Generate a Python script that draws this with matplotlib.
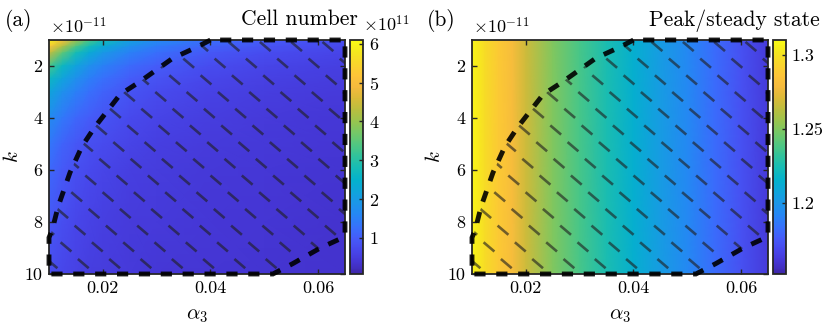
import numpy as np
import matplotlib
matplotlib.use("Agg")
import matplotlib.pyplot as plt
from matplotlib.colors import LinearSegmentedColormap
from matplotlib.collections import LineCollection
from matplotlib.patches import Polygon

plt.rcParams['font.family'] = 'serif'
plt.rcParams['font.serif'] = ['cmr10']
plt.rcParams['mathtext.fontset'] = 'cm'
plt.rcParams['axes.unicode_minus'] = False
plt.rcParams['axes.formatter.use_mathtext'] = True

# ---------------- data ----------------
alpha_grid = [0.010, 0.0125, 0.015, 0.0175, 0.020, 0.025, 0.030, 0.040, 0.050, 0.065]
k_grid = [1, 1.25, 1.5, 2, 2.5, 3, 4, 5, 6, 8, 10]          # x 1e-11
# cell number (x 1e11), rows follow k_grid, columns follow alpha_grid
cell_number = [
    [6.00, 5.10, 4.10, 3.35, 2.80, 2.10, 1.70, 1.25, 1.00, 0.80],
    [5.20, 4.20, 3.35, 2.75, 2.30, 1.75, 1.42, 1.06, 0.87, 0.70],
    [4.40, 3.50, 2.80, 2.30, 1.95, 1.50, 1.23, 0.93, 0.77, 0.63],
    [3.30, 2.65, 2.15, 1.78, 1.52, 1.18, 0.99, 0.77, 0.65, 0.55],
    [2.65, 2.15, 1.77, 1.48, 1.27, 1.00, 0.85, 0.67, 0.58, 0.50],
    [2.20, 1.80, 1.50, 1.27, 1.10, 0.88, 0.75, 0.61, 0.53, 0.46],
    [1.70, 1.38, 1.15, 0.99, 0.88, 0.72, 0.63, 0.52, 0.47, 0.42],
    [1.38, 1.10, 0.94, 0.82, 0.74, 0.62, 0.56, 0.48, 0.44, 0.39],
    [1.17, 0.95, 0.81, 0.72, 0.65, 0.56, 0.50, 0.44, 0.40, 0.37],
    [0.94, 0.78, 0.68, 0.61, 0.56, 0.49, 0.45, 0.40, 0.38, 0.35],
    [0.80, 0.67, 0.59, 0.54, 0.50, 0.45, 0.42, 0.38, 0.36, 0.33],
]
cell_clim = [0.07, 6.1]
cell_cticks = [1, 2, 3, 4, 5, 6]

alpha_peak = [0.010, 0.0125, 0.015, 0.0175, 0.020, 0.025, 0.030, 0.035,
              0.040, 0.045, 0.050, 0.055, 0.060, 0.065]
k_peak = [1, 10]
peak_ratio = [1.308, 1.297, 1.288, 1.280, 1.268, 1.250, 1.237, 1.225,
              1.214, 1.203, 1.193, 1.182, 1.172, 1.162]
peak_clim = [1.152, 1.31]
peak_cticks = [1.2, 1.25, 1.3]
peak_cticklabels = ['1.2', '1.25', '1.3']

# boundary of the hatched region (alpha_3, k x 1e-11)
region_alpha = [0.0400, 0.0375, 0.0330, 0.0269, 0.0232, 0.0185, 0.0161, 0.0139,
                0.0117, 0.0106, 0.0100, 0.0100, 0.0516, 0.0553, 0.0604, 0.0646,
                0.0650, 0.0650, 0.0400]
region_k = [1.0, 1.27, 1.7, 2.6, 3.1, 4.35, 5.1, 6.1, 7.4, 8.3, 8.6, 10.0,
            10.0, 9.6, 9.0, 8.6, 8.5, 1.0, 1.0]

x_ticks = [0.02, 0.04, 0.06]
x_ticklabels = ['0.02', '0.04', '0.06']
y_ticks = [2, 4, 6, 8, 10]
y_ticklabels = ['2', '4', '6', '8', '10']
x_lim = [0.01, 0.065]
y_lim = [10, 1]

# ---------------- parula colormap ----------------
parula_anchors = [
    (0.00, (0.2422, 0.1504, 0.6603)),
    (0.05, (0.2700, 0.2100, 0.8300)),
    (0.10, (0.2803, 0.2782, 0.9221)),
    (0.15, (0.2740, 0.3560, 0.9750)),
    (0.20, (0.2150, 0.4450, 0.9900)),
    (0.25, (0.1500, 0.5250, 0.9600)),
    (0.30, (0.1100, 0.5850, 0.9100)),
    (0.35, (0.0600, 0.6450, 0.8600)),
    (0.40, (0.0150, 0.6950, 0.8050)),
    (0.45, (0.0800, 0.7350, 0.7200)),
    (0.50, (0.1800, 0.7600, 0.6200)),
    (0.55, (0.3100, 0.7800, 0.5100)),
    (0.60, (0.4500, 0.7850, 0.4100)),
    (0.65, (0.5900, 0.7700, 0.3100)),
    (0.70, (0.7200, 0.7450, 0.2500)),
    (0.75, (0.8500, 0.7300, 0.2200)),
    (0.80, (0.9600, 0.7300, 0.2400)),
    (0.85, (0.9950, 0.7700, 0.2200)),
    (0.90, (0.9750, 0.8350, 0.1700)),
    (0.95, (0.9600, 0.9050, 0.1200)),
    (1.00, (0.9769, 0.9839, 0.0805)),
]
parula = LinearSegmentedColormap.from_list('parula', parula_anchors, N=256)

W, H = 831, 329
fig = plt.figure(figsize=(W / 100, H / 100), dpi=100)

FRAME = '#262626'
TICK_FS = 13
TITLE_FS = 15.5


def px_rect(x0, y0, x1, y1):
    return [x0 / W, 1 - y1 / H, (x1 - x0) / W, (y1 - y0) / H]


def add_hatch(ax):
    pos = ax.get_position()
    w = pos.width * W
    h = pos.height * H
    ox, oy = 129.0, 73.3
    ax_s, bx, by = 31.3, 17.3, 16.7
    segs = []
    j0 = int(np.floor((-20 - oy) / by))
    j1 = int(np.ceil((h + 20 - oy) / by))
    for j in range(j0, j1 + 1):
        cy = oy + by * j
        for i in range(-40, 40):
            cx = ox + ax_s * i + bx * j
            if cx < -20 or cx > w + 20:
                continue
            segs.append([((cx - 5.4) / w, 1 - (cy - 4.6) / h),
                         ((cx + 5.4) / w, 1 - (cy + 4.6) / h)])
    clip = Polygon(np.column_stack([region_alpha, region_k]), closed=True,
                   transform=ax.transData)
    lc = LineCollection(segs, transform=ax.transAxes, colors=(0.12, 0.12, 0.12, 0.62),
                        linewidths=1.9, capstyle='butt', zorder=4)
    ax.add_collection(lc, autolim=False)
    lc.set_clip_path(clip)
    ax.plot(region_alpha, region_k, color='k', lw=3.5, dashes=(2.3, 2.2),
            clip_on=False, zorder=5, dash_capstyle='butt', dash_joinstyle='miter',
            alpha=0.9)


def style_axes(ax):
    ax.set_xlim(x_lim)
    ax.set_ylim(y_lim)
    ax.set_xticks(x_ticks)
    ax.set_xticklabels(x_ticklabels)
    ax.set_yticks(y_ticks)
    ax.set_yticklabels(y_ticklabels)
    ax.tick_params(direction='in', length=3.5, width=1.0, color=FRAME,
                   labelsize=TICK_FS, top=True, right=True, pad=5)
    for s in ax.spines.values():
        s.set_linewidth(1.3)
        s.set_color(FRAME)


def style_cbar(cb, ticks, labels=None):
    cb.set_ticks(ticks)
    if labels is not None:
        cb.set_ticklabels(labels)
    cb.ax.tick_params(direction='in', length=3, width=1.0, color=FRAME,
                      labelsize=TICK_FS, pad=4)
    cb.outline.set_linewidth(1.3)
    cb.outline.set_edgecolor(FRAME)


# ---------------- panel (a) ----------------
axA = fig.add_axes(px_rect(49, 40, 345, 274))
XA, YA = np.meshgrid(alpha_grid, k_grid)
mA = axA.pcolormesh(XA, YA, np.array(cell_number), shading='gouraud', cmap=parula,
                    vmin=cell_clim[0], vmax=cell_clim[1], rasterized=True)
style_axes(axA)
add_hatch(axA)
caxA = fig.add_axes(px_rect(350, 40, 363, 274))
cbA = fig.colorbar(mA, cax=caxA)
style_cbar(cbA, cell_cticks)

# ---------------- panel (b) ----------------
axB = fig.add_axes(px_rect(472, 40, 768, 274))
XB, YB = np.meshgrid(alpha_peak, k_peak)
ZB = np.array([peak_ratio for _ in k_peak])
mB = axB.pcolormesh(XB, YB, ZB, shading='gouraud', cmap=parula,
                    vmin=peak_clim[0], vmax=peak_clim[1], rasterized=True)
style_axes(axB)
add_hatch(axB)
caxB = fig.add_axes(px_rect(773, 40, 786, 274))
cbB = fig.colorbar(mB, cax=caxB)
style_cbar(cbB, peak_cticks, peak_cticklabels)

# ---------------- texts ----------------
def ftext(x, y, s, **kw):
    fig.text(x / W, 1 - y / H, s, **kw)

ftext(5, 26, '(a)', fontsize=TITLE_FS, ha='left', va='baseline')
ftext(427, 26, '(b)', fontsize=TITLE_FS, ha='left', va='baseline')
ftext(358, 25, 'Cell number', fontsize=TITLE_FS, ha='right', va='baseline')
ftext(820, 26, 'Peak/steady state', fontsize=TITLE_FS, ha='right', va='baseline')
ftext(50, 33, r'$\times 10^{-11}$', fontsize=13, ha='left', va='baseline')
ftext(473, 33, r'$\times 10^{-11}$', fontsize=13, ha='left', va='baseline')
ftext(363, 31, r'$\times 10^{11}$', fontsize=13, ha='left', va='baseline')
ftext(13, 157, r'$k$', fontsize=15, ha='center', va='center', rotation=90)
ftext(435, 157, r'$k$', fontsize=15, ha='center', va='center', rotation=90)
ftext(197, 316, r'$\alpha_3$', fontsize=15, ha='center', va='center')
ftext(620, 316, r'$\alpha_3$', fontsize=15, ha='center', va='center')

fig.savefig('out.png', dpi=100)
